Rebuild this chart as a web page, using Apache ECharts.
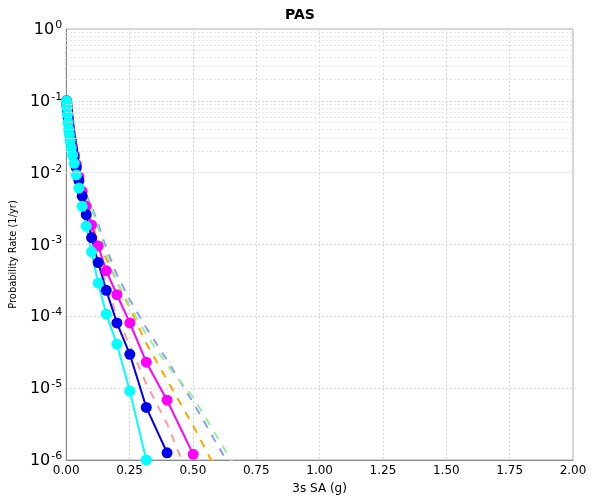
<!DOCTYPE html>
<html>
<head>
<meta charset="utf-8">
<script src="https://cdn.jsdelivr.net/npm/echarts@6/dist/echarts.min.js"></script>
<style>html,body{margin:0;padding:0;background:#fff;}#c{width:600px;height:500px;}</style>
</head>
<body>
<div id="c"></div>
<script>
var X = [0.001, 0.002, 0.003, 0.005, 0.0075, 0.01, 0.0126, 0.0158, 0.02, 0.0251, 0.0316, 0.0398, 0.05, 0.063, 0.079, 0.1, 0.126, 0.158, 0.2, 0.251, 0.316, 0.398, 0.501, 0.631, 0.794];
var cyanVals = [0.1, 0.092, 0.08, 0.065, 0.05, 0.04, 0.034, 0.028, 0.022, 0.0175, 0.0135, 0.0093, 0.0061, 0.0034, 0.0018, 7.9e-4, 2.9e-4, 1.07e-4, 4.1e-5, 9.1e-6, 1.0e-6];
var blueVals = [0.1, 0.095, 0.085, 0.072, 0.058, 0.048, 0.04, 0.033, 0.027, 0.021, 0.0165, 0.0118, 0.0078, 0.0047, 0.0026, 1.25e-3, 5.6e-4, 2.3e-4, 8.1e-5, 2.96e-5, 5.4e-6, 1.26e-6];
var magentaVals = [0.1, 0.096, 0.088, 0.075, 0.062, 0.052, 0.044, 0.036, 0.029, 0.023, 0.018, 0.013, 0.0088, 0.0055, 0.0034, 1.87e-3, 9.5e-4, 4.3e-4, 2.0e-4, 8.1e-5, 2.3e-5, 6.8e-6, 1.2e-6];
var salmonVals = [0.1, 0.095, 0.087, 0.074, 0.061, 0.051, 0.043, 0.035, 0.028, 0.022, 0.017, 0.0122, 0.0082, 0.0051, 0.0028, 1.4e-3, 6.5e-4, 2.8e-4, 1.0e-4, 3.9e-5, 1.15e-5, 3.2e-6, 4e-7];
var orangeVals = [0.1, 0.096, 0.089, 0.077, 0.064, 0.054, 0.046, 0.038, 0.031, 0.025, 0.0195, 0.0142, 0.0098, 0.0063, 0.0038, 2.1e-3, 1.1e-3, 6.3e-4, 3.0e-4, 1.3e-4, 4.2e-5, 1.3e-5, 3.0e-6, 4e-7];
var lightBlueVals = [0.1, 0.097, 0.09, 0.079, 0.067, 0.057, 0.049, 0.041, 0.033, 0.026, 0.02, 0.0145, 0.0105, 0.007, 0.0048, 3.5e-3, 1.95e-3, 8.9e-4, 3.8e-4, 1.7e-4, 6.9e-5, 2.45e-5, 6.3e-6, 1.0e-6, 1e-7];
var greenVals = [0.1, 0.097, 0.09, 0.079, 0.067, 0.057, 0.049, 0.041, 0.033, 0.026, 0.02, 0.014, 0.01, 0.0067, 0.0045, 3.2e-3, 1.7e-3, 7.5e-4, 3.0e-4, 1.4e-4, 5.6e-5, 2.1e-5, 7.5e-6, 1.3e-6, 1.5e-7];
var xTicks = [0, 0.25, 0.5, 0.75, 1.0, 1.25, 1.5, 1.75, 2.0];
var minorMultipliers = [2, 3, 4, 5, 6, 7, 8, 9];
var decades = [-6, -5, -4, -3, -2, -1];

function pairs(vals) {
  var out = [];
  for (var i = 0; i < vals.length; i++) out.push([X[i], vals[i]]);
  return out;
}
var minorLines = [];
decades.forEach(function (d) {
  minorMultipliers.forEach(function (m) { minorLines.push({ yAxis: m * Math.pow(10, d) }); });
});

function dashed(name, vals, color) {
  return {
    name: name, type: 'line', data: pairs(vals), showSymbol: false, symbol: 'none',
    lineStyle: { color: color, width: 2, type: [8, 8] }, z: 3, animation: false
  };
}
function solid(name, vals, color) {
  return {
    name: name, type: 'line', data: pairs(vals), symbol: 'circle', symbolSize: 11,
    itemStyle: { color: color }, lineStyle: { color: color, width: 2 }, z: 4, animation: false
  };
}

var chart = echarts.init(document.getElementById('c'));
chart.setOption({
  animation: false,
  title: { text: 'PAS', left: 'center', top: 3, textStyle: { fontFamily: 'DejaVu Sans', fontSize: 14, fontWeight: 'bold', color: '#000' } },
  grid: { left: 63, right: 27, top: 29, bottom: 40, show: true, borderColor: '#aaa', borderWidth: 1 },
  xAxis: {
    type: 'value', min: 0, max: 2, interval: 0.25,
    name: '3s SA (g)', nameLocation: 'middle', nameGap: 23,
    nameTextStyle: { fontFamily: 'DejaVu Sans', fontSize: 12, color: '#000' },
    axisLine: { lineStyle: { color: '#888', width: 1 } },
    axisTick: { show: false },
    axisLabel: { fontFamily: 'DejaVu Sans', fontSize: 12, color: '#000', margin: 5, formatter: function (v) { return v.toFixed(2); } },
    splitLine: { show: true, lineStyle: { color: '#d8d8d8', type: [2, 2], width: 1 } }
  },
  yAxis: {
    type: 'log', logBase: 10, min: 1e-6, max: 1, interval: 1,
    name: 'Probability Rate (1/yr)', nameLocation: 'middle', nameGap: 46,
    nameTextStyle: { fontFamily: 'DejaVu Sans Condensed', fontSize: 11, color: '#000', padding: [0, 0, 0, -20] },
    axisLine: { show: true, lineStyle: { color: '#888', width: 1 } },
    axisTick: { show: false },
    axisLabel: {
      margin: 4,
      formatter: function (v) { return '{b|10}{s|' + Math.round(Math.log10(v)) + '}'; },
      rich: {
        b: { fontFamily: 'DejaVu Sans', fontSize: 16, color: '#000', lineHeight: 16, padding: [2, 0, 0, 0] },
        s: { fontFamily: 'DejaVu Sans', fontSize: 11, color: '#000', lineHeight: 10, padding: [0, 0, 8, 1] }
      }
    },
    splitLine: { show: true, lineStyle: { color: '#d8d8d8', type: [2, 2], width: 1 } }
  },
  series: [
    {
      name: 'minor', type: 'line', data: [], z: 1, silent: true,
      markLine: { silent: true, symbol: 'none', label: { show: false }, animation: false,
        lineStyle: { color: '#e2e2e2', type: [2, 2], width: 1 }, data: minorLines }
    },
    dashed('lower', salmonVals, '#ff9a9a'),
    dashed('upper1', orangeVals, '#ffa500'),
    dashed('upper2', lightBlueVals, '#8c9cf5'),
    dashed('upper3', greenVals, '#99ee99'),
    solid('magenta', magentaVals, '#ff00ff'),
    solid('blue', blueVals, '#0000ee'),
    solid('cyan', cyanVals, '#00ffff')
  ]
});
</script>
</body>
</html>
